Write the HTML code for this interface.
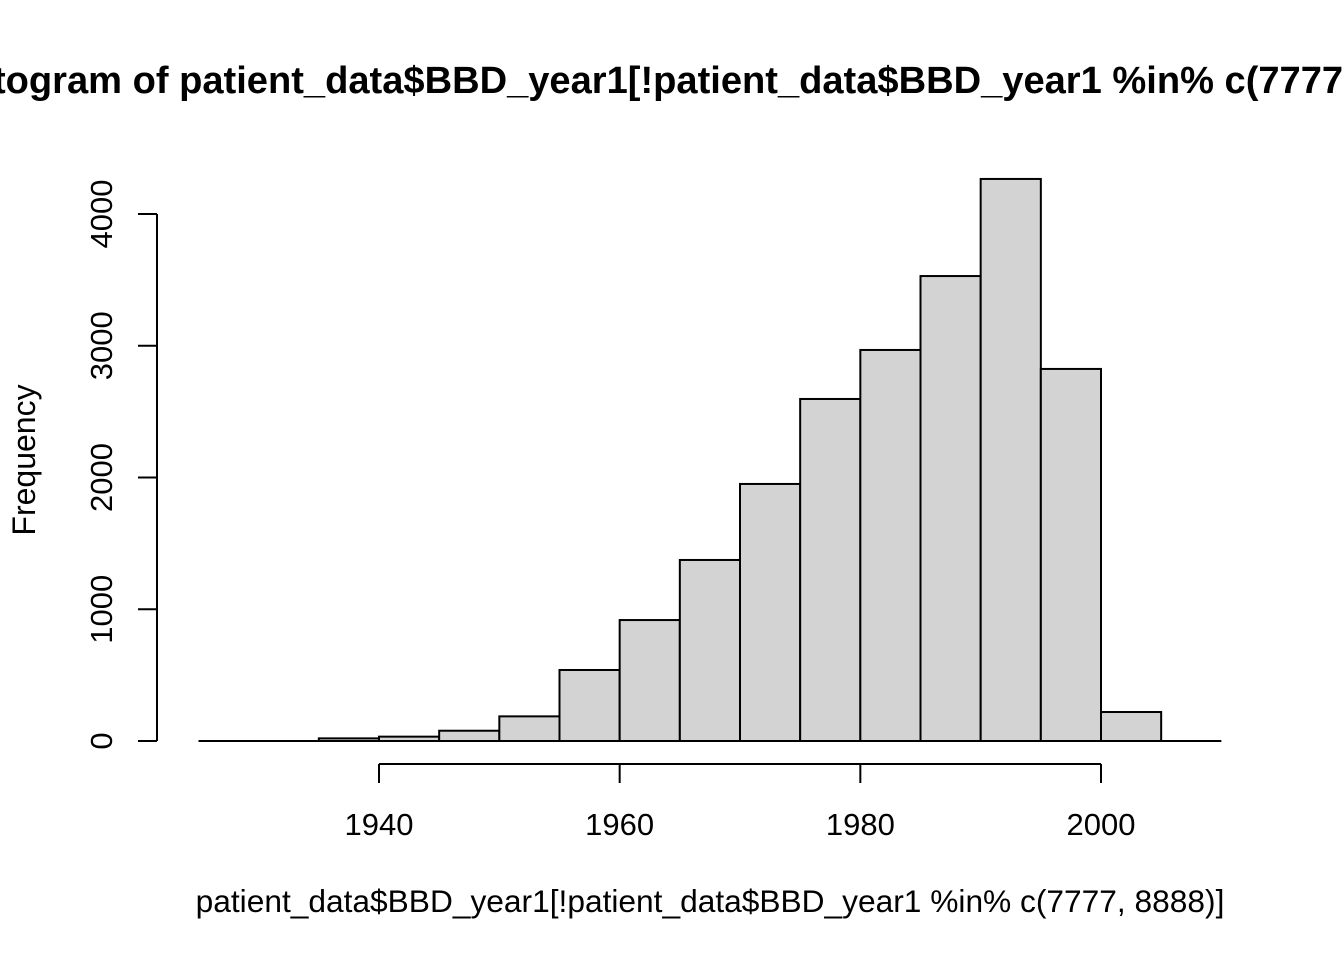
<!DOCTYPE html>
<html><head><meta charset="utf-8"><style>body{margin:0;background:#fff}svg{display:block}text{font-family:"Liberation Sans",Arial,sans-serif;fill:#000}</style></head>
<body>
<svg id="chart" width="1344" height="960" viewBox="0 0 1344 960">
<text x="704" y="93" text-anchor="middle" font-size="38.1" font-weight="bold">Histogram of patient_data$BBD_year1[!patient_data$BBD_year1 %in% c(7777, 8888)]</text>
<text x="710" y="912" text-anchor="middle" font-size="31.7">patient_data$BBD_year1[!patient_data$BBD_year1 %in% c(7777, 8888)]</text>
<text transform="translate(35,460) rotate(-90)" text-anchor="middle" font-size="32">Frequency</text>
<g id="bars"></g><g id="axes"></g>
</svg>
<script>
const binStarts=[1925,1930,1935,1940,1945,1950,1955,1960,1965,1970,1975,1980,1985,1990,1995,2000,2005];
const counts=[0,0,20,33,78,187,539,918,1374,1951,2596,2968,3529,4266,2824,220,0];
const xTicks=[1940,1960,1980,2000];
const yTicks=[0,1000,2000,3000,4000];
const binWidth=5;
const NS="http://www.w3.org/2000/svg";
const xs=v=>379+(v-1940)*(1101-379)/60;
const ys=v=>741-v*(741-214)/4000;
function mk(tag,attrs,parent){const e=document.createElementNS(NS,tag);for(const k in attrs)e.setAttribute(k,attrs[k]);parent.appendChild(e);return e;}
const bars=document.getElementById('bars'),axes=document.getElementById('axes');
binStarts.forEach((b,i)=>{
 const x0=xs(b),x1=xs(b+binWidth),y=ys(counts[i]);
 const r=mk('rect',{x:x0,y:y,width:x1-x0,height:741-y,fill:'#d3d3d3',stroke:'#000','stroke-width':2},bars);
 
 
});
const base=mk('line',{x1:xs(binStarts[0]),x2:xs(binStarts[binStarts.length-1]+binWidth),y1:ys(0),y2:ys(0),stroke:'#000','stroke-width':2},bars);


const xa=mk('line',{x1:xs(xTicks[0]),x2:xs(xTicks[xTicks.length-1]),y1:764,y2:764,stroke:'#000','stroke-width':2},axes);


xTicks.forEach(t=>{
 const l=mk('line',{x1:xs(t),x2:xs(t),y1:764,y2:783,stroke:'#000','stroke-width':2},axes);
 
 
 const tx=mk('text',{x:xs(t),y:835,'text-anchor':'middle','font-size':31},axes);
 tx.textContent=t;
 
 
});
const ya=mk('line',{x1:157,x2:157,y1:ys(yTicks[0]),y2:ys(yTicks[yTicks.length-1]),stroke:'#000','stroke-width':2},axes);


yTicks.forEach(t=>{
 const l=mk('line',{x1:138,x2:157,y1:ys(t),y2:ys(t),stroke:'#000','stroke-width':2},axes);
 
 
 const tx=mk('text',{transform:`translate(112,${ys(t)}) rotate(-90)`,'text-anchor':'middle','font-size':31},axes);
 tx.textContent=t;
 
 
});
</script>
</body></html>
